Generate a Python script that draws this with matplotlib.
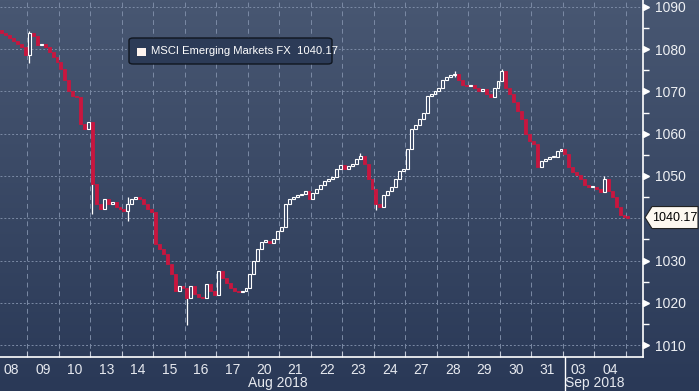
import numpy as np
import matplotlib
matplotlib.use("Agg")
import matplotlib.pyplot as plt
from matplotlib.patches import Polygon, FancyBboxPatch, Rectangle
from matplotlib.lines import Line2D
from matplotlib.transforms import IdentityTransform, blended_transform_factory
from matplotlib.colors import LinearSegmentedColormap

# ---------------- data ----------------
day_labels = ["08", "09", "10", "13", "14", "15", "16", "17", "20", "21",
              "22", "23", "24", "27", "28", "29", "30", "31", "03", "04"]
month_labels = ["Aug 2018", "Sep 2018"]
candles_per_day = 8

first_open = 1084.8
closes = [
    1084.4, 1083.9, 1083.4, 1082.7, 1081.8, 1081.1, 1080.4, 1078.7,   # 08
    1083.9, 1083.0, 1081.0, 1081.3, 1080.6, 1079.4, 1078.2, 1077.0,   # 09
    1075.2, 1072.8, 1070.0, 1069.0, 1068.6, 1062.2, 1061.1, 1062.7,   # 10
    1048.1, 1043.4, 1042.2, 1044.6, 1043.4, 1043.9, 1042.7, 1042.2,   # 13
    1041.8, 1043.4, 1044.6, 1045.1, 1044.6, 1043.4, 1042.2, 1041.5,   # 14
    1034.0, 1032.8, 1031.6, 1029.3, 1026.9, 1022.9, 1023.9, 1023.4,   # 15
    1021.1, 1023.9, 1022.2, 1021.5, 1021.1, 1024.4, 1022.7, 1021.8,   # 16
    1027.6, 1025.8, 1024.8, 1023.4, 1022.9, 1022.5, 1022.9, 1023.4,   # 17
    1026.9, 1030.0, 1032.8, 1034.5, 1034.7, 1034.2, 1035.2, 1037.1,   # 20
    1038.0, 1043.4, 1044.6, 1045.1, 1045.5, 1045.8, 1046.5, 1044.6,   # 21
    1046.0, 1047.0, 1047.9, 1048.8, 1049.3, 1049.8, 1051.6, 1052.6,   # 22
    1051.6, 1052.4, 1052.8, 1054.0, 1054.7, 1052.8, 1049.3, 1047.0,   # 23
    1043.4, 1042.7, 1045.5, 1046.5, 1047.4, 1049.3, 1051.2, 1051.6,   # 24
    1056.4, 1061.1, 1062.0, 1063.4, 1064.8, 1068.8, 1069.3, 1070.0,   # 27
    1070.9, 1072.8, 1073.3, 1073.8, 1074.2, 1072.8, 1071.6, 1071.2,   # 28
    1071.6, 1070.9, 1070.0, 1070.5, 1069.3, 1068.6, 1070.9, 1072.4,   # 29
    1074.7, 1070.9, 1069.3, 1067.4, 1065.3, 1063.4, 1059.9, 1058.2,   # 30
    1057.5, 1052.1, 1053.5, 1054.0, 1054.4, 1054.4, 1055.9, 1056.4,   # 31
    1055.2, 1052.1, 1050.9, 1050.2, 1049.3, 1047.9, 1047.4, 1047.4,   # 03
    1047.0, 1046.2, 1049.3, 1046.5, 1045.1, 1042.7, 1040.8, 1040.3,   # 04
    1040.17,                                                          # 05
]
# notable wicks: candle index, low, high
wick_idx = [8, 24, 33, 48, 92, 96, 116, 128, 154]
wick_low = [1076.8, 1041.0, 1039.3, 1014.7, 1054.0, 1042.0, 1073.5, 1074.0, 1049.0]
wick_high = [1084.2, 1048.5, 1045.0, 1021.5, 1055.5, 1047.0, 1074.8, 1075.3, 1050.0]

last_value = 1040.17
legend_text = "MSCI Emerging Markets FX  1040.17"
yticks = [1010, 1020, 1030, 1040, 1050, 1060, 1070, 1080, 1090]

# ---------------- figure ----------------
W, H = 699, 391
fig = plt.figure(figsize=(W / 100, H / 100), dpi=100)
plt.rcParams['font.family'] = ['Liberation Sans', 'DejaVu Sans']

# background gradient
bg = fig.add_axes([0, 0, 1, 1], zorder=-10)
cmap = LinearSegmentedColormap.from_list("bg", ["#485772", "#2a3957"])
grad = np.linspace(0, 1, 256).reshape(-1, 1)
bg.imshow(grad, aspect="auto", cmap=cmap, extent=[0, 1, 0, 1])
bg.axis("off")

ax_left, ax_right, ax_top, ax_bottom = 0, 643, 0, 357
ax = fig.add_axes([ax_left / W, 1 - ax_bottom / H, (ax_right - ax_left) / W,
                   (ax_bottom - ax_top) / H])
ax.patch.set_alpha(0)

closes_a = np.array(closes)
opens_a = np.concatenate([[first_open], closes_a[:-1]])
idx = np.arange(len(closes_a))
up = closes_a >= opens_a
bottoms = np.minimum(opens_a, closes_a)
heights = np.maximum(np.abs(closes_a - opens_a), 0.25)

red = "#c8163f"
ax.vlines(wick_idx, wick_low, wick_high, color="white", lw=0.9, zorder=3)
ax.bar(idx[~up], heights[~up], bottom=bottoms[~up], width=0.75,
       color=red, edgecolor=red, lw=0.6, zorder=4)
ax.bar(idx[up], heights[up], bottom=bottoms[up], width=0.75,
       facecolor="#3a4966", edgecolor="white", lw=0.8, zorder=5)

n_days = len(day_labels)
px0, pday = -2.08, 31.5
k_per_px = candles_per_day / pday
xmin = (0 - px0) * k_per_px
xmax = (643 - px0) * k_per_px
ax.set_xlim(xmin, xmax)
ax.set_ylim(1007.2, 1091.6)

# grid
grid_col = "#7b8aa5"
for v in yticks:
    ax.axhline(v, color=grid_col, lw=0.7, ls=(0, (2, 2)), zorder=1)
bounds = [d * candles_per_day - 0.5 for d in range(1, n_days + 1)]
for b in bounds:
    ax.axvline(b, color=grid_col, lw=0.7, ls=(0, (5, 4)), zorder=1)

# spines
for s in ["top", "left"]:
    ax.spines[s].set_visible(False)
for s in ["right", "bottom"]:
    ax.spines[s].set_color("white")
    ax.spines[s].set_linewidth(1.2)

# x ticks
centers = [d * candles_per_day + 3.5 for d in range(n_days)]
ax.set_xticks(centers)
ax.set_xticklabels(day_labels)
ax.set_xticks(bounds, minor=True)
ax.tick_params(axis="x", which="major", length=0, pad=4, labelsize=10,
               labelcolor="#e6e9ef")
ax.tick_params(axis="x", which="minor", direction="in", length=4,
               color="#c0c8d6", width=0.8)

# y ticks on right (1040 label sits under the last-price tag)
ax.yaxis.tick_right()
ax.set_yticks(yticks)
ax.set_yticklabels(["" if v == 1040 else str(v) for v in yticks])
ax.set_yticks([v + 5 for v in yticks[:-1]], minor=True)
ax.tick_params(axis="y", which="major", length=0, pad=9, labelsize=10,
               labelcolor="#eef0f4")
ax.tick_params(axis="y", which="minor", direction="out", length=4,
               color="white", width=1)
tri_tr = blended_transform_factory(ax.transAxes, ax.transData)
tri_ticks = [v for v in yticks if v != 1040]
ax.plot([1.0045] * len(tri_ticks), tri_ticks, ls="none", marker=">", ms=4.5,
        color="white", transform=tri_tr, clip_on=False, zorder=6)

# month labels and separator
fig.text(278 / W, 1 - 383 / H, month_labels[0], ha="center", va="center",
         fontsize=10, color="#e6e9ef")
fig.text(595 / W, 1 - 383 / H, month_labels[1], ha="center", va="center",
         fontsize=10, color="#e6e9ef")
sep_px = px0 + (bounds[17]) / k_per_px + 2
fig.add_artist(Line2D([sep_px / W, sep_px / W], [0, 1 - 357 / H],
                      color="white", lw=1.0))

# legend box
fig.add_artist(FancyBboxPatch((129 / W, 1 - 64 / H), (332 - 129) / W, 26 / H,
                              boxstyle="round,pad=0,rounding_size=0.006",
                              transform=fig.transFigure, facecolor="#2c3b57",
                              edgecolor="#10161f", lw=1.0))
fig.add_artist(Rectangle((137 / W, 1 - 56 / H), 8.5 / W, 8.5 / H,
                         transform=fig.transFigure, facecolor="#fdf3ee",
                         edgecolor="none"))
fig.text(151 / W, 1 - 51.5 / H, legend_text, ha="left", va="center",
         fontsize=8.1, color="white")

# last price tag
_, ylast = ax.transData.transform((xmin, last_value))
xr = ax.transAxes.transform((1, 0))[0]
hh = 11
verts = [(xr + 2, ylast), (xr + 9, ylast + hh), (W - 1, ylast + hh),
         (W - 1, ylast - hh), (xr + 9, ylast - hh)]
fig.add_artist(Polygon(verts, closed=True, transform=IdentityTransform(),
                       facecolor="#fdf8f0", edgecolor="#222222", lw=0.8))
fig.text((xr + 8 + W - 1) / 2 / W, ylast / H, f"{last_value:.2f}",
         ha="center", va="center", fontsize=9, color="black")

fig.savefig("out.png", dpi=100)
